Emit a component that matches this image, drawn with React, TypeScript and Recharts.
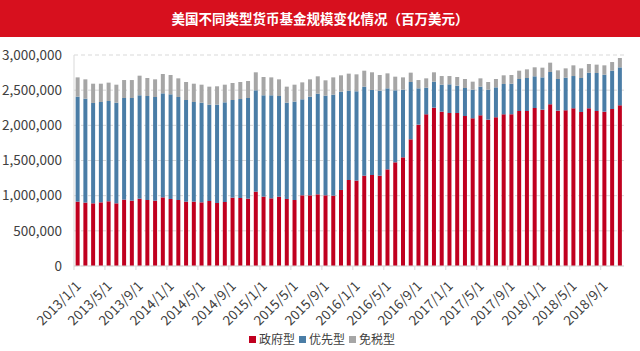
import React from 'react';
import { BarChart, Bar, XAxis, YAxis, CartesianGrid } from 'recharts';

const months: string[] = [];
for (let y = 2013; y <= 2018; y++) {
  for (let m = 1; m <= 12; m++) {
    if (y === 2018 && m === 12) break;
    months.push(`${y}/${m}/1`);
  }
}

const government = [
  915000, 901000, 891000, 905000, 920000, 891000, 943000, 929000, 957000, 938000, 929000, 976000,
  953000, 938000, 915000, 915000, 905000, 924000, 896000, 910000, 972000, 967000, 957000, 1057000,
  986000, 962000, 986000, 953000, 938000, 1005000, 1005000, 1019000, 1005000, 1000000, 1081000, 1223000,
  1214000, 1284000, 1294000, 1284000, 1374000, 1474000, 1545000, 1801000, 2010000, 2156000, 2251000, 2194000,
  2175000, 2175000, 2133000, 2100000, 2142000, 2081000, 2114000, 2156000, 2156000, 2204000, 2204000, 2246000,
  2223000, 2299000, 2209000, 2213000, 2242000, 2190000, 2242000, 2204000, 2194000, 2232000, 2284000,
];

const prime = [
  1493000, 1478000, 1427000, 1427000, 1426000, 1431000, 1446000, 1460000, 1470000, 1479000, 1474000, 1479000,
  1488000, 1465000, 1445000, 1417000, 1417000, 1370000, 1398000, 1417000, 1388000, 1407000, 1432000, 1441000,
  1441000, 1465000, 1431000, 1369000, 1399000, 1365000, 1403000, 1431000, 1417000, 1436000, 1398000, 1270000,
  1270000, 1266000, 1209000, 1209000, 1152000, 1024000, 962000, 815000, 516000, 380000, 370000, 384000,
  408000, 389000, 398000, 407000, 408000, 426000, 426000, 432000, 436000, 455000, 469000, 451000,
  459000, 459000, 450000, 465000, 459000, 483000, 507000, 540000, 526000, 545000, 540000,
];

const taxExempt = [
  274000, 275000, 274000, 260000, 261000, 256000, 255000, 255000, 279000, 256000, 251000, 275000,
  275000, 265000, 256000, 260000, 256000, 256000, 261000, 251000, 242000, 242000, 241000, 256000,
  260000, 255000, 237000, 228000, 241000, 241000, 246000, 247000, 218000, 246000, 232000, 242000,
  241000, 227000, 251000, 223000, 213000, 194000, 175000, 133000, 118000, 132000, 133000, 123000,
  118000, 123000, 128000, 114000, 118000, 109000, 119000, 123000, 124000, 118000, 123000, 128000,
  138000, 133000, 123000, 132000, 152000, 137000, 123000, 119000, 133000, 123000, 133000,
];

const yTicks = [0, 500000, 1000000, 1500000, 2000000, 2500000, 3000000];

const seriesNames = ['政府型', '优先型', '免税型'];
const colors = ['#C0001F', '#4A7DA6', '#A6A6A6'];

const data = months.map((m, i) => ({
  month: m,
  gov: government[i],
  prime: prime[i],
  tax: taxExempt[i],
}));

const FONT = '"Noto Sans CJK SC", "Microsoft YaHei", sans-serif';

const XTick = (props: any) => {
  const { x, y, payload } = props;
  return (
    <g transform={`translate(${x},${y})`}>
      <line x1={-3.9} y1={-8} x2={-3.9} y2={-4} stroke="#d9d9d9" />
      <text
        x={4}
        y={13}
        textAnchor="end"
        fill="#404040"
        fontSize={13.5}
        fontFamily={FONT}
        transform="rotate(-45 4 13)"
      >
        {payload.value}
      </text>
    </g>
  );
};

const fmt = (v: number) => v.toLocaleString('en-US');

export default function App() {
  return (
    <div style={{ position: 'absolute', left: 0, top: 0, width: 640, height: 351, background: '#fff', overflow: 'hidden' }}>
      <div
        style={{
          position: 'absolute',
          left: 0,
          top: 0,
          width: 640,
          height: 37,
          background: '#D7101E',
          color: '#fff',
          fontFamily: FONT,
          fontSize: 13.5,
          fontWeight: 700,
          lineHeight: '37px',
          textAlign: 'center',
        }}
      >
        美国不同类型货币基金规模变化情况（百万美元）
      </div>
      <div style={{ position: 'absolute', left: 0, top: 0 }}>
        <BarChart
          width={640}
          height={351}
          data={data}
          margin={{ top: 55, right: 16, left: 0, bottom: 26 }}
          barCategoryGap="21%"
        >
          <CartesianGrid vertical={false} stroke="#d9d9d9" strokeDasharray="4 3" />
          <XAxis
            dataKey="month"
            interval={3}
            tick={<XTick />}
            tickLine={false}
            axisLine={{ stroke: '#d9d9d9' }}
            height={59}
          />
          <YAxis
            domain={[0, 3000000]}
            ticks={yTicks}
            tickFormatter={fmt}
            width={74}
            tickLine={false}
            axisLine={{ stroke: '#d9d9d9' }}
            tick={{ fill: '#404040', fontSize: 13.5, fontFamily: FONT }}
            tickMargin={6}
          />
          <Bar dataKey="gov" stackId="a" fill={colors[0]} name={seriesNames[0]} isAnimationActive={false} />
          <Bar dataKey="prime" stackId="a" fill={colors[1]} name={seriesNames[1]} isAnimationActive={false} />
          <Bar dataKey="tax" stackId="a" fill={colors[2]} name={seriesNames[2]} isAnimationActive={false} />
        </BarChart>
      </div>
      <div
        style={{
          position: 'absolute',
          left: 0,
          top: 331,
          width: 640,
          display: 'flex',
          justifyContent: 'center',
          paddingLeft: 4,
          fontFamily: FONT,
          fontSize: 12,
          color: '#404040',
          lineHeight: '16px',
        }}
      >
        {seriesNames.map((n, i) => (
          <span key={n} style={{ display: 'inline-flex', alignItems: 'center', marginRight: 4 }}>
            <span style={{ display: 'inline-block', width: 7, height: 7, background: colors[i], marginRight: 3 }} />
            {n}
          </span>
        ))}
      </div>
    </div>
  );
}
